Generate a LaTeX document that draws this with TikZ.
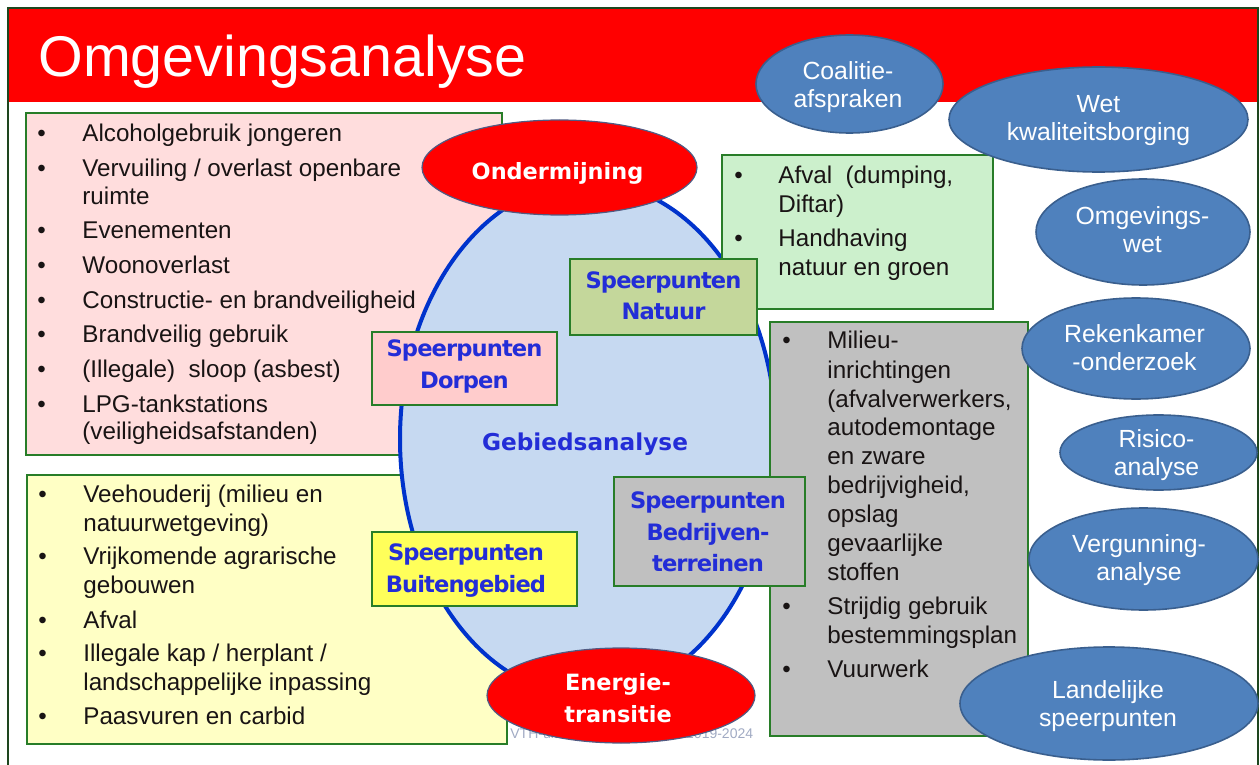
\documentclass[tikz,border=0pt]{standalone}
\usepackage{fontspec}
\setmainfont{Liberation Sans}
\newfontfamily\dvs{DejaVu Sans}
\newfontfamily\dvsn{DejaVu Sans}[LetterSpace=-4]
\usetikzlibrary{shapes.geometric}
\definecolor{framegreen}{RGB}{30,70,30}
\definecolor{boxgreen}{RGB}{40,125,40}
\definecolor{pinkfill}{RGB}{255,221,221}
\definecolor{yellowfill}{RGB}{255,255,197}
\definecolor{greenfill}{RGB}{204,240,204}
\definecolor{grayfill}{RGB}{192,192,192}
\definecolor{sppink}{RGB}{255,204,204}
\definecolor{spnat}{RGB}{196,215,155}
\definecolor{spyellow}{RGB}{255,255,90}
\definecolor{gebfill}{RGB}{198,217,241}
\definecolor{gebline}{RGB}{0,51,204}
\definecolor{blueellfill}{RGB}{79,129,189}
\definecolor{blueellline}{RGB}{58,95,142}
\definecolor{labblue}{RGB}{35,45,215}
\definecolor{titlered}{RGB}{255,0,0}
\definecolor{ellredline}{RGB}{80,90,130}
\definecolor{bodytext}{RGB}{25,20,20}
\definecolor{footgray}{RGB}{160,170,195}
\newcommand{\mlines}[1]{\begin{tabular}[t]{@{}c@{}}#1\end{tabular}}
\tikzset{
  listtext/.style={text=bodytext, inner sep=0pt, anchor=base west},
  listbox/.style={rectangle, draw=boxgreen, line width=1pt, inner sep=0pt},
  splab/.style={font=\dvsn\bfseries\fontsize{11.3}{16}\selectfont, text=labblue, inner sep=0pt, anchor=base},
  redell/.style={ellipse, fill=titlered, draw=ellredline, line width=0.6pt, inner sep=0pt},
  redlab/.style={font=\dvs\bfseries\fontsize{11.2}{16}\selectfont, text=white, inner sep=0pt, anchor=base},
  blueell/.style={ellipse, fill=blueellfill, draw=blueellline, line width=0.8pt, inner sep=0pt},
  bluelab/.style={font=\fontsize{12.4}{14}\selectfont, text=white, inner sep=0pt, anchor=base}
}
\begin{document}
\begin{tikzpicture}[x=0.5pt,y=-0.5pt]
\useasboundingbox (0,0) rectangle (1260,765);
% title bar and frame
\node[rectangle, fill=titlered, minimum width=624pt, minimum height=46.5pt, inner sep=0pt] (bar) at (633,55.5) {};
\draw[framegreen, line width=1pt] (8,780) -- (8,8) -- (1258,8) -- (1258,780);
\node[anchor=base west, text=white, font=\fontsize{28.7}{34}\selectfont, inner sep=0pt] (title) at (38,77) {Omgevingsanalyse};
% pink list box
\node[listbox, fill=pinkfill, minimum width=238pt, minimum height=171pt] (pinkbox) at (264,284) {};
\node[listtext, font=\fontsize{12.1}{13.75}\selectfont] (pinklist) at (37,142) {\begin{tabular}[t]{@{}p{22.5pt}@{}l@{}}
\textbullet & Alcoholgebruik jongeren\\[3.6pt]
\textbullet & Vervuiling / overlast openbare\\
 & ruimte\\[3.6pt]
\textbullet & Evenementen\\[3.6pt]
\textbullet & Woonoverlast\\[3.6pt]
\textbullet & Constructie- en brandveiligheid\\[3.6pt]
\textbullet & Brandveilig gebruik\\[3.6pt]
\textbullet & (Illegale)~ sloop (asbest)\\[3.6pt]
\textbullet & LPG-tankstations\\
 & (veiligheidsafstanden)
\end{tabular}};
% yellow list box
\node[listbox, fill=yellowfill, minimum width=240pt, minimum height=134.5pt] (yellowbox) at (267,609.5) {};
\node[listtext, font=\fontsize{12.1}{14.5}\selectfont] (yellowlist) at (38,502) {\begin{tabular}[t]{@{}p{22.5pt}@{}l@{}}
\textbullet & Veehouderij (milieu en\\
 & natuurwetgeving)\\[2.5pt]
\textbullet & Vrijkomende agrarische\\
 & gebouwen\\[2.5pt]
\textbullet & Afval\\[2.5pt]
\textbullet & Illegale kap / herplant /\\
 & landschappelijke inpassing\\[2.5pt]
\textbullet & Paasvuren en carbid
\end{tabular}};
% footer text (mostly hidden)
\node[anchor=base west, text=footgray, font=\fontsize{7}{8}\selectfont, inner sep=0pt] (foot) at (510,738) {VTH-uitvoeringsprogramma 2019-2024};
% central ellipse
\node[ellipse, fill=gebfill, draw=gebline, line width=2pt, minimum width=188pt, minimum height=257pt, inner sep=0pt] (geb) at (588,439) {};
% green list box
\node[listbox, fill=greenfill, minimum width=135.5pt, minimum height=77pt] (greenbox) at (857.5,232) {};
\node[listtext, font=\fontsize{12.1}{14.5}\selectfont] (greenlist) at (734,184) {\begin{tabular}[t]{@{}p{22pt}@{}l@{}}
\textbullet & Afval~ (dumping,\\
 & Diftar)\\[2.5pt]
\textbullet & Handhaving\\
 & natuur en groen
\end{tabular}};
% gray list box
\node[listbox, fill=grayfill, minimum width=129pt, minimum height=207pt] (graybox) at (899,529) {};
\node[listtext, font=\fontsize{12.1}{14.5}\selectfont] (graylist) at (782,349) {\begin{tabular}[t]{@{}p{22.5pt}@{}l@{}}
\textbullet & Milieu-\\
 & inrichtingen\\
 & (afvalverwerkers,\\
 & autodemontage\\
 & en zware\\
 & bedrijvigheid,\\
 & opslag\\
 & gevaarlijke\\
 & stoffen\\[2.5pt]
\textbullet & Strijdig gebruik\\
 & bestemmingsplan\\[2.5pt]
\textbullet & Vuurwerk
\end{tabular}};
\node[font=\dvs\bfseries\fontsize{11.6}{14}\selectfont, text=labblue, inner sep=0pt, anchor=base] (gebtext) at (585,450) {Gebiedsanalyse};
% red ellipses
\node[redell, minimum width=137.5pt, minimum height=47.5pt] (onder) at (559.5,167.5) {};
\node[redlab] (ondertext) at (557.5,180) {Ondermijning};
\node[redell, minimum width=134pt, minimum height=47.5pt] (energie) at (621,695.5) {};
\node[redlab] (energietext) at (618,690) {\mlines{Energie-\\transitie}};
% speerpunten boxes
\node[listbox, fill=sppink, minimum width=92.5pt, minimum height=36.5pt] (dorpbox) at (464.5,368.5) {};
\node[splab] (dorptext) at (464.5,357) {\mlines{Speerpunten\\Dorpen}};
\node[listbox, fill=spnat, minimum width=93.5pt, minimum height=38pt] (natbox) at (663.5,297) {};
\node[splab] (nattext) at (663.5,288) {\mlines{Speerpunten\\Natuur}};
\node[listbox, fill=spyellow, minimum width=102.5pt, minimum height=37pt] (buitbox) at (474.5,569) {};
\node[splab] (buittext) at (466,560) {\mlines{Speerpunten\\Buitengebied}};
\node[listbox, fill=grayfill, minimum width=95.5pt, minimum height=54.5pt] (bedrbox) at (709.5,531.5) {};
\node[splab] (bedrtext) at (708,508) {\mlines{Speerpunten\\Bedrijven-\\terreinen}};
% blue ellipses
\node[blueell, minimum width=93.5pt, minimum height=49pt] (coal) at (849.5,84) {};
\node[bluelab] (coaltext) at (848,80) {\mlines{Coalitie-\\afspraken}};
\node[blueell, minimum width=149.5pt, minimum height=52.5pt] (wet) at (1098.5,119.5) {};
\node[bluelab] (wettext) at (1098.5,113) {\mlines{Wet\\kwaliteitsborging}};
\node[blueell, minimum width=107pt, minimum height=53pt] (omg) at (1143,232) {};
\node[bluelab] (omgtext) at (1142.5,225) {\mlines{Omgevings-\\wet}};
\node[blueell, minimum width=114pt, minimum height=50.5pt] (rek) at (1136,348.5) {};
\node[bluelab] (rektext) at (1134.5,343) {\mlines{Rekenkamer\\-onderzoek}};
\node[blueell, minimum width=98.5pt, minimum height=37.5pt] (ris) at (1158.5,452.5) {};
\node[bluelab] (ristext) at (1156.5,447) {\mlines{Risico-\\analyse}};
\node[blueell, minimum width=114.5pt, minimum height=51pt] (verg) at (1143.5,559) {};
\node[bluelab] (vergtext) at (1139,552) {\mlines{Vergunning-\\analyse}};
\node[blueell, minimum width=149pt, minimum height=56.5pt] (land) at (1109,703.5) {};
\node[bluelab] (landtext) at (1108,698) {\mlines{Landelijke\\speerpunten}};
\end{tikzpicture}
\end{document}
